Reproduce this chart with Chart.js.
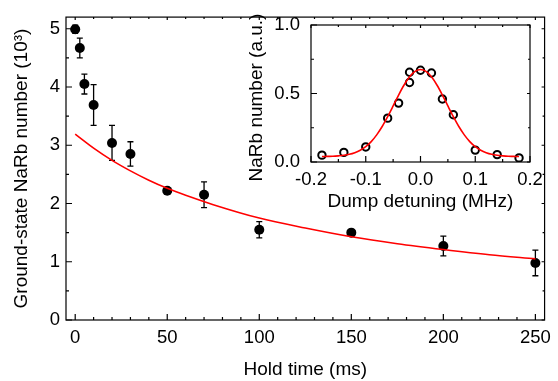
<!DOCTYPE html>
<html>
<head>
<meta charset="utf-8">
<script src="https://cdn.jsdelivr.net/npm/chart.js@4/dist/chart.umd.min.js"></script>
<style>
  html, body { margin: 0; padding: 0; background: #fff; }
  #wrap { position: relative; width: 558px; height: 381px; }
  #main { position: absolute; left: 0; top: 0; }
  #inset { position: absolute; left: 240px; top: 0; }
</style>
</head>
<body>
<div id="wrap">
  <canvas id="main" width="558" height="381"></canvas>
  <canvas id="inset" width="310" height="215"></canvas>
</div>
<script>
// main panel: ground-state molecule number vs hold time
const holdTimes = [0, 2.5, 5, 10, 20, 30, 50, 70, 100, 150, 200, 250];
const molecules = [4.99, 4.67, 4.05, 3.69, 3.04, 2.85, 2.22, 2.15, 1.55, 1.50, 1.27, 0.98];
const moleculeErr = [0.07, 0.17, 0.17, 0.35, 0.30, 0.21, 0.05, 0.22, 0.14, 0.03, 0.17, 0.22];
const fitTimes = [0, 10, 20, 30, 40, 50, 60, 75, 100, 125, 150, 175, 200, 225, 250];
const fitNumbers = [3.19, 2.95, 2.74, 2.56, 2.40, 2.26, 2.14, 1.98, 1.75, 1.58, 1.43, 1.31, 1.21, 1.12, 1.05];
const holdTicks = [0, 50, 100, 150, 200, 250];
const holdMinor = [10, 20, 30, 40, 60, 70, 80, 90, 110, 120, 130, 140, 160, 170, 180, 190, 210, 220, 230, 240];
const numberTicks = [0, 1, 2, 3, 4, 5];
const numberMinor = [0.5, 1.5, 2.5, 3.5, 4.5];

// inset: dump detuning scan
const detuning = [-0.18, -0.14, -0.10, -0.06, -0.04, -0.02, -0.02, 0.00, 0.02, 0.04, 0.06, 0.10, 0.14, 0.18];
const insetCounts = [0.05, 0.07, 0.11, 0.32, 0.43, 0.655, 0.58, 0.67, 0.65, 0.46, 0.345, 0.087, 0.054, 0.03];
const gaussX = [-0.18, -0.17, -0.16, -0.15, -0.14, -0.13, -0.12, -0.11, -0.10, -0.09, -0.08, -0.07, -0.06, -0.05, -0.04, -0.03, -0.02, -0.01, 0,
  0.01, 0.02, 0.03, 0.04, 0.05, 0.06, 0.07, 0.08, 0.09, 0.10, 0.11, 0.12, 0.13, 0.14, 0.15, 0.16, 0.17, 0.18];
const gaussY = [0.040, 0.041, 0.042, 0.045, 0.049, 0.056, 0.068, 0.086, 0.112, 0.149, 0.198, 0.259, 0.331, 0.409, 0.489, 0.562, 0.622, 0.661, 0.675,
  0.661, 0.622, 0.562, 0.489, 0.409, 0.331, 0.259, 0.198, 0.149, 0.112, 0.086, 0.068, 0.056, 0.049, 0.045, 0.042, 0.041, 0.040];
const detTicks = [-0.2, -0.1, 0, 0.1, 0.2];
const detLabels = ['-0.2', '-0.1', '0.0', '0.1', '0.2'];
const detMinor = [-0.15, -0.05, 0.05, 0.15];
const countTicks = [0, 0.5, 1.0];
const countLabels = ['0.0', '0.5', '1.0'];
const countMinor = [0.25, 0.75];

const FONT = "'Liberation Sans', Arial, Helvetica, sans-serif";
const RED = '#ff0000';

const pts = (xs, ys) => xs.map((x, i) => ({ x: x, y: ys[i] }));

// box + inward ticks; bottom/left long, top/right short
const frameTicks = {
  id: 'frameTicks',
  afterDatasetsDraw(chart, args, opts) {
    const { ctx, chartArea: a } = chart;
    const sx = chart.scales.x, sy = chart.scales.y;
    ctx.save();
    ctx.strokeStyle = '#000';
    ctx.lineWidth = 1.2;
    ctx.strokeRect(a.left, a.top, a.right - a.left, a.bottom - a.top);
    ctx.beginPath();
    const xt = (vals, len, mlen) => vals.forEach(v => {
      const px = sx.getPixelForValue(v);
      ctx.moveTo(px, a.bottom); ctx.lineTo(px, a.bottom - len);
      ctx.moveTo(px, a.top); ctx.lineTo(px, a.top + mlen);
    });
    const yt = (vals, len, mlen) => vals.forEach(v => {
      const py = sy.getPixelForValue(v);
      ctx.moveTo(a.left, py); ctx.lineTo(a.left + len, py);
      ctx.moveTo(a.right, py); ctx.lineTo(a.right - mlen, py);
    });
    xt(opts.xMajor, 6, 3); xt(opts.xMinor, 3, 2);
    yt(opts.yMajor, 6, 3); yt(opts.yMinor, 3, 2);
    ctx.stroke();
    ctx.restore();
  }
};

const errorBars = {
  id: 'errorBars',
  beforeDatasetsDraw(chart) {
    const { ctx } = chart;
    const sx = chart.scales.x, sy = chart.scales.y;
    ctx.save();
    ctx.strokeStyle = '#000';
    ctx.lineWidth = 1.3;
    ctx.beginPath();
    holdTimes.forEach((t, i) => {
      const px = sx.getPixelForValue(t);
      const top = sy.getPixelForValue(molecules[i] + moleculeErr[i]);
      const bot = sy.getPixelForValue(molecules[i] - moleculeErr[i]);
      ctx.moveTo(px, top); ctx.lineTo(px, bot);
      ctx.moveTo(px - 3, top); ctx.lineTo(px + 3, top);
      ctx.moveTo(px - 3, bot); ctx.lineTo(px + 3, bot);
    });
    ctx.stroke();
    ctx.restore();
  }
};

// the inset y title is longer than its axis, so chart.js would squeeze it
const sideTitle = {
  id: 'sideTitle',
  afterDraw(chart, args, opts) {
    const { ctx, chartArea: a } = chart;
    ctx.save();
    ctx.fillStyle = '#000';
    ctx.font = '19px ' + FONT;
    ctx.textAlign = 'center';
    ctx.textBaseline = 'middle';
    ctx.translate(chart.scales.y.left + opts.offset, (a.top + a.bottom) / 2 + opts.shift);
    ctx.rotate(-Math.PI / 2);
    ctx.fillText(opts.text, 0, 0);
    ctx.restore();
  }
};

function axis(min, max, tickVals, labels, title, titlePad, tickPad, size, isX) {
  return {
    type: 'linear',
    min: min,
    max: max,
    grid: { display: false, drawTicks: false },
    border: { display: false },
    afterBuildTicks: s => { s.ticks = tickVals.map(v => ({ value: v })); },
    afterFit: s => { if (isX) s.height = size; else s.width = size; },
    ticks: {
      color: '#000',
      padding: tickPad,
      maxRotation: 0,
      autoSkip: false,
      font: { family: FONT, size: 18.5 },
      callback: (v, i) => labels[i]
    },
    title: {
      display: title !== '',
      text: title,
      color: '#000',
      padding: titlePad,
      font: { family: FONT, size: 19 }
    }
  };
}

new Chart(document.getElementById('main'), {
  type: 'scatter',
  data: {
    datasets: [
      {
        data: pts(holdTimes, molecules),
        pointRadius: 5,
        pointHoverRadius: 5,
        backgroundColor: '#000',
        borderColor: '#000',
        borderWidth: 0,
        order: 2
      },
      {
        data: pts(fitTimes, fitNumbers),
        showLine: true,
        pointRadius: 0,
        borderColor: RED,
        borderWidth: 1.6,
        cubicInterpolationMode: 'monotone',
        order: 1
      }
    ]
  },
  options: {
    responsive: false,
    animation: false,
    layout: { padding: { top: 6, right: 9.5, left: 0, bottom: 0 } },
    plugins: {
      legend: { display: false },
      tooltip: { enabled: false },
      frameTicks: { xMajor: holdTicks, xMinor: holdMinor, yMajor: numberTicks, yMinor: numberMinor }
    },
    scales: {
      x: axis(-5, 255, holdTicks, holdTicks.map(String), 'Hold time (ms)', { top: 0, bottom: 0 }, 7, 61, true),
      y: axis(0, 5.2, numberTicks, numberTicks.map(String), 'Ground-state NaRb number (10³)', { top: 10.6, bottom: 0 }, 6, 66, false)
    }
  },
  plugins: [frameTicks, errorBars]
});

new Chart(document.getElementById('inset'), {
  type: 'scatter',
  data: {
    datasets: [
      {
        data: pts(detuning, insetCounts),
        pointRadius: 3.7,
        pointHoverRadius: 3.7,
        backgroundColor: 'rgba(0,0,0,0)',
        borderColor: '#000',
        borderWidth: 2,
        order: 2
      },
      {
        data: pts(gaussX, gaussY),
        showLine: true,
        pointRadius: 0,
        borderColor: RED,
        borderWidth: 1.6,
        cubicInterpolationMode: 'monotone',
        order: 1
      }
    ]
  },
  options: {
    responsive: false,
    animation: false,
    layout: { padding: { top: 25, right: 20, left: 0, bottom: 0 } },
    plugins: {
      legend: { display: false },
      tooltip: { enabled: false },
      frameTicks: { xMajor: detTicks, xMinor: detMinor, yMajor: countTicks, yMinor: countMinor },
      sideTitle: { text: 'NaRb number (a.u.)', offset: 16.7, shift: 4 }
    },
    scales: {
      x: axis(-0.2, 0.2, detTicks, detLabels, 'Dump detuning (MHz)', { top: 0, bottom: 2.2 }, 7, 53, true),
      y: axis(0, 1.0, countTicks, countLabels, '', 0, 11, 71, false)
    }
  },
  plugins: [frameTicks, sideTitle]
});
</script>
</body>
</html>
